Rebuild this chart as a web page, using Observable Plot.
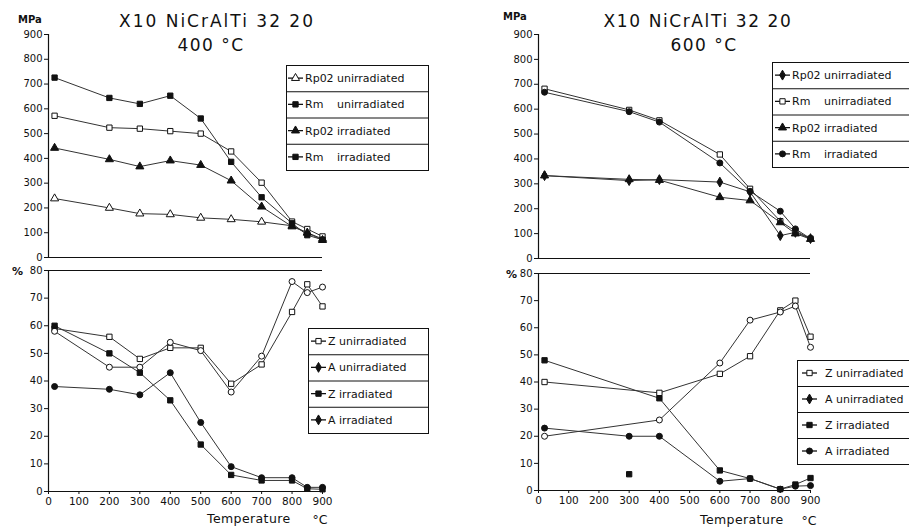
<!DOCTYPE html>
<html><head><meta charset="utf-8">
<script src="https://cdn.jsdelivr.net/npm/d3@7"></script>
<script src="https://cdn.jsdelivr.net/npm/@observablehq/plot@0.6"></script>
<style>
html,body{margin:0;padding:0;background:#fff;overflow:hidden;}
#wrap{position:relative;width:909px;height:531px;overflow:hidden;background:#fff;}
#wrap svg{position:absolute;left:0;top:0;}
</style>
</head><body><div id="wrap"></div>
<script>
// ---------- DATA ----------
const xTicks = [0, 100, 200, 300, 400, 500, 600, 700, 800, 900];
const mpaTicks = [0, 100, 200, 300, 400, 500, 600, 700, 800, 900];
const pctTicks = [0, 10, 20, 30, 40, 50, 60, 70, 80];

// 400 °C, strength (MPa)
const tempsL = [20, 200, 300, 400, 500, 600, 700, 800, 850, 900];
const rp02UnirrL = [238, 200, 177, 174, 160, 154, 144, 128, 100, 75];
const rmUnirrL   = [572, 524, 520, 510, 500, 428, 302, 145, 115, 85];
const rp02IrrL   = [442, 396, 367, 391, 373, 310, 205, 125, 100, 70];
const rmIrrL     = [726, 644, 620, 653, 561, 386, 243, 138, 90, 72];

// 400 °C, ductility (%)
const zUnirrL = [59, 56, 48, 52, 52, 39, 46, 65, 75, 67];
const aUnirrL = [58, 45, 45, 54, 51, 36, 49, 76, 72, 74];
const zIrrL   = [60, 50, 43, 33, 17, 6, 4, 4, 1, 0.8];
const aIrrL   = [38, 37, 35, 43, 25, 9, 5, 5, 1.5, 1.5];

// 600 °C, strength (MPa)
const tempsR = [20, 300, 400, 600, 700, 800, 850, 900];
const rp02UnirrR = [333, 313, 317, 307, 268, 92, 105, 80];
const rmUnirrR   = [682, 597, 555, 418, 280, 150, 110, 80];
const rp02IrrR   = [333, 318, 315, 246, 233, 145, 100, 78];
const rmIrrR     = [668, 590, 548, 384, 270, 190, 119, 80];

// 600 °C, ductility (%)
const tempsBR  = [20, 400, 600, 700, 800, 850, 900];
const zUnirrR  = [40, 36, 43, 49.5, 66.4, 70, 56.7];
const aUnirrR  = [20, 26, 47, 62.8, 65.8, 68, 52.8];
const zIrrR    = [48, 34, 7.4, 4.4, 0.5, 2.2, 4.6];
const tempsAIrrR = [20, 300, 400, 600, 700, 800, 850, 900];
const aIrrR    = [23, 20, 20, 3.4, 4.4, 0.5, 1.6, 1.8];
const isolatedT = [300];
const isolatedV = [6];

const legendStrength = ["Rp02 unirradiated", "Rm unirradiated", "Rp02 irradiated", "Rm irradiated"];
const legendDuct = ["Z unirradiated", "A unirradiated", "Z irradiated", "A irradiated"];

// ---------- DRAW ----------
const W = 909, H = 531;
const wrap = document.getElementById("wrap");
const INK = "#111";

function panel(cfg) {
  const marks = [
    Plot.ruleX([0], {stroke: INK, strokeWidth: 1.2}),
    Plot.ruleY([cfg.yDomain[0]], {stroke: INK, strokeWidth: 1.2})
  ];
  if (cfg.topRule) marks.push(Plot.ruleY([cfg.yDomain[1]], {stroke: INK, strokeWidth: 1.2}));
  marks.push(Plot.axisY({ticks: cfg.yTicks, tickSize: 4, tickPadding: 2, fontSize: 10, label: null}));
  if (cfg.xAxis) marks.push(Plot.axisX({ticks: xTicks, tickSize: 3, tickPadding: 3, fontSize: 10.5, label: null}));
  for (const s of cfg.series) {
    const data = s.t.map((t, i) => ({t, v: s.v[i]}));
    if (!s.noLine) marks.push(Plot.line(data, {x: "t", y: "v", stroke: "#333", strokeWidth: 1}));
    marks.push(Plot.dot(data, {x: "t", y: "v", symbol: s.symbol, r: 3,
      fill: s.filled ? INK : "#fff", stroke: INK, strokeWidth: 1}));
  }
  const svg = Plot.plot({
    width: W, height: H,
    marginLeft: cfg.x0, marginRight: W - cfg.x1,
    marginTop: cfg.yTop, marginBottom: H - cfg.yBot,
    x: {domain: [0, 900], axis: null},
    y: {domain: cfg.yDomain, axis: null},
    style: {fontFamily: "DejaVu Sans, sans-serif", fontSize: "11px", color: INK, background: "transparent", overflow: "visible"},
    marks
  });
  wrap.appendChild(svg);
}

panel({x0: 48, x1: 322, yTop: 34, yBot: 257, yDomain: [0, 900], yTicks: mpaTicks, series: [
  {t: tempsL, v: rp02UnirrL, symbol: "triangle", filled: false},
  {t: tempsL, v: rmUnirrL, symbol: "square", filled: false},
  {t: tempsL, v: rp02IrrL, symbol: "triangle", filled: true},
  {t: tempsL, v: rmIrrL, symbol: "square", filled: true}
]});
panel({x0: 48, x1: 322, yTop: 270, yBot: 491, yDomain: [0, 80], yTicks: pctTicks, topRule: true, xAxis: true, series: [
  {t: tempsL, v: zUnirrL, symbol: "square", filled: false},
  {t: tempsL, v: aUnirrL, symbol: "circle", filled: false},
  {t: tempsL, v: zIrrL, symbol: "square", filled: true},
  {t: tempsL, v: aIrrL, symbol: "circle", filled: true}
]});
panel({x0: 538, x1: 810, yTop: 34, yBot: 258, yDomain: [0, 900], yTicks: mpaTicks, series: [
  {t: tempsR, v: rp02UnirrR, symbol: "diamond", filled: true},
  {t: tempsR, v: rmUnirrR, symbol: "square", filled: false},
  {t: tempsR, v: rp02IrrR, symbol: "triangle", filled: true},
  {t: tempsR, v: rmIrrR, symbol: "circle", filled: true}
]});
panel({x0: 538, x1: 810, yTop: 273, yBot: 490, yDomain: [0, 80], yTicks: pctTicks, topRule: true, xAxis: true, series: [
  {t: tempsBR, v: zUnirrR, symbol: "square", filled: false},
  {t: tempsBR, v: aUnirrR, symbol: "circle", filled: false},
  {t: tempsBR, v: zIrrR, symbol: "square", filled: true},
  {t: tempsAIrrR, v: aIrrR, symbol: "circle", filled: true},
  {t: isolatedT, v: isolatedV, symbol: "square", filled: true, noLine: true}
]});

// ---------- TEXT & LEGENDS ----------
const ov = d3.select(wrap).append("svg").attr("width", W).attr("height", H)
  .style("font-family", "DejaVu Sans, sans-serif").attr("fill", INK);

function txt(x, y, s, size, opts = {}) {
  ov.append("text").attr("x", x).attr("y", y).attr("font-size", size)
    .attr("text-anchor", opts.anchor || "start")
    .attr("font-weight", opts.bold ? "bold" : null)
    .attr("letter-spacing", opts.ls || null)
    .text(s);
}
txt(217, 27, "X10 NiCrAlTi 32 20", 17, {anchor: "middle", ls: 2});
txt(211, 51, "400 °C", 17, {anchor: "middle", ls: 1.5});
txt(698, 27, "X10 NiCrAlTi 32 20", 17, {anchor: "middle", ls: 1.6});
txt(704, 51, "600 °C", 17, {anchor: "middle", ls: 1.5});
txt(18, 23, "MPa", 10, {bold: true});
txt(503, 20, "MPa", 10, {bold: true});
txt(12, 275, "%", 11, {bold: true});
txt(506, 278, "%", 11, {bold: true});
txt(207, 523, "Temperature", 12.5, {ls: 0.4});
txt(320, 524, "°C", 12.5, {anchor: "middle"});
txt(700, 524, "Temperature", 12.5, {ls: 0.4});
txt(809, 525, "°C", 12.5, {anchor: "middle"});

const symMap = {triangle: d3.symbolTriangle, square: d3.symbolSquare, circle: d3.symbolCircle, diamond: d3.symbolDiamond};
function legend(x, y, w, h, labels, syms, symX0, textX, split) {
  const g = ov.append("g");
  g.append("rect").attr("x", x + 0.5).attr("y", y + 0.5).attr("width", w).attr("height", h)
    .attr("fill", "#fff").attr("stroke", INK).attr("stroke-width", 1);
  const rh = h / labels.length;
  labels.forEach((lab, i) => {
    const cy = y + rh * i + rh / 2;
    if (i > 0) g.append("line").attr("x1", x).attr("x2", x + w).attr("y1", y + rh * i + 0.5).attr("y2", y + rh * i + 0.5).attr("stroke", INK);
    g.append("line").attr("x1", symX0).attr("x2", symX0 + 15).attr("y1", cy).attr("y2", cy).attr("stroke", INK).attr("stroke-width", 1.3);
    g.append("path").attr("d", d3.symbol(symMap[syms[i][0]], Math.PI * 9)())
      .attr("transform", `translate(${symX0 + 7.5},${cy})`)
      .attr("fill", syms[i][1] ? INK : "#fff").attr("stroke", INK);
    if (split) {
      const parts = lab.split(" ");
      g.append("text").attr("x", textX).attr("y", cy + 4).attr("font-size", 11).text(parts[0]);
      g.append("text").attr("x", textX + 32).attr("y", cy + 4).attr("font-size", 11).text(parts.slice(1).join(" "));
    } else {
      g.append("text").attr("x", textX).attr("y", cy + 4).attr("font-size", 11).text(lab);
    }
  });
}
legend(286, 65, 142, 105, legendStrength,
  [["triangle", false], ["square", true], ["triangle", true], ["square", true]], 288, 305, true);
legend(308, 328, 120, 105, legendDuct,
  [["square", false], ["diamond", true], ["square", true], ["diamond", true]], 311, 328, false);
legend(772, 62, 150, 105, legendStrength,
  [["diamond", true], ["square", false], ["triangle", true], ["circle", true]], 775, 792, true);
legend(797, 360, 130, 104, legendDuct,
  [["square", false], ["diamond", true], ["square", true], ["circle", true]], 802, 825, false);
</script>
</body></html>
